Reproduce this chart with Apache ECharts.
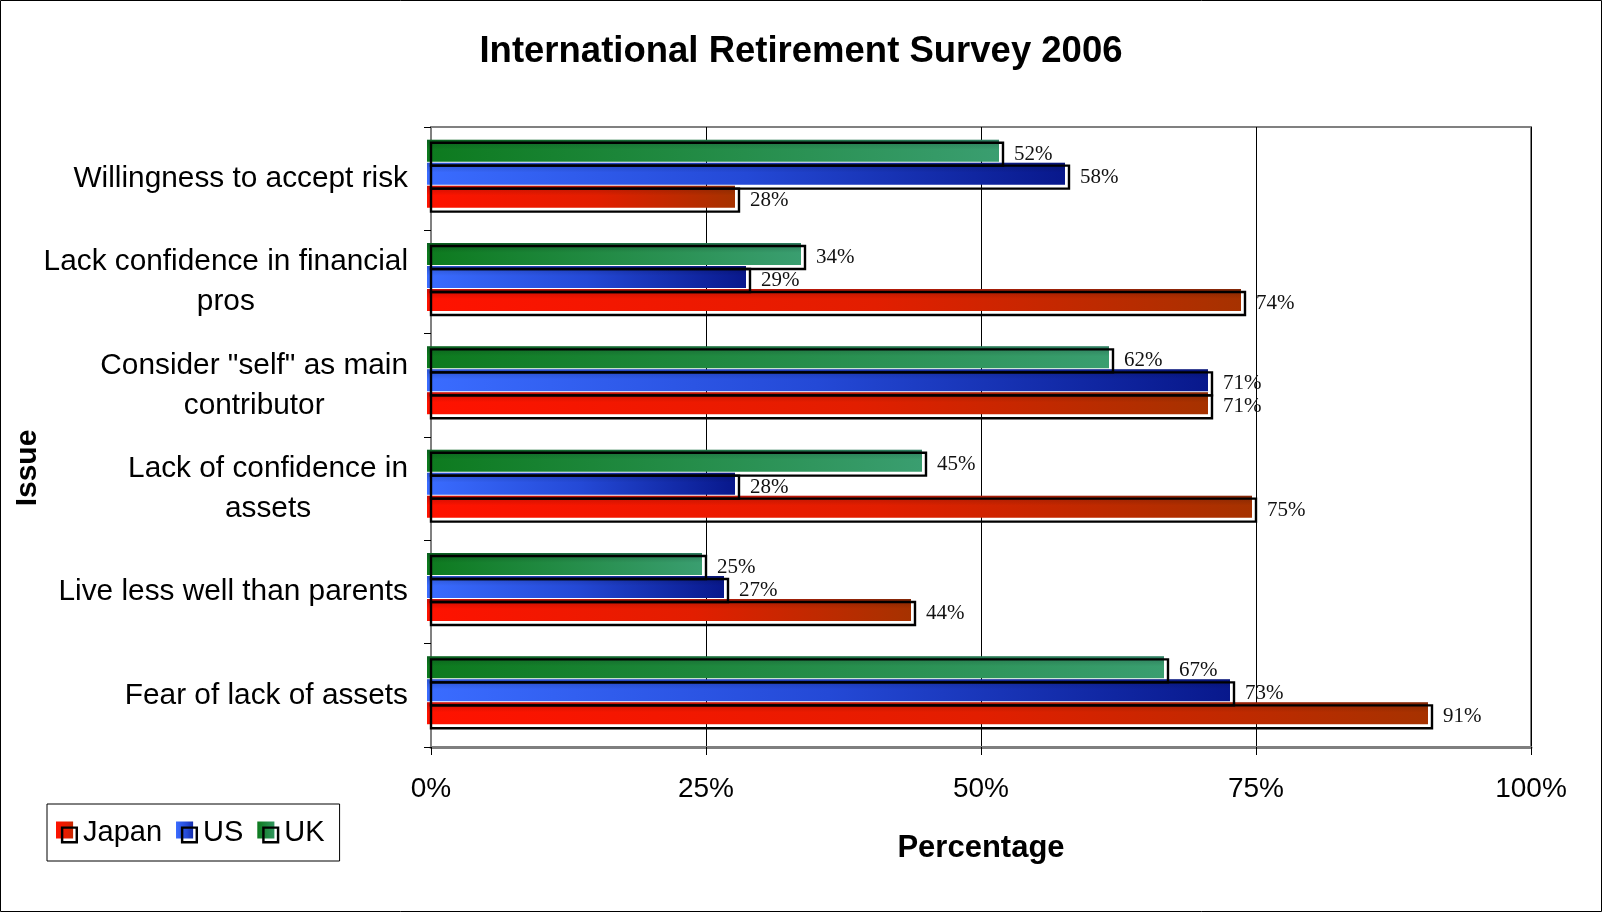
<!DOCTYPE html>
<html><head><meta charset="utf-8">
<script src="https://cdn.jsdelivr.net/npm/echarts@6/dist/echarts.min.js"></script>
<style>html,body{margin:0;padding:0;background:#fff}#c{width:1602px;height:912px}</style>
</head><body><div id="c"></div>
<script>
const categories = ['Willingness to accept risk', 'Lack confidence in financial\npros', 'Consider "self" as main\ncontributor', 'Lack of confidence in\nassets', 'Live less well than parents', 'Fear of lack of assets'];
const seriesNames = ['Japan', 'US', 'UK'];
const japan = [28, 74, 71, 75, 44, 91];
const us = [58, 29, 71, 28, 27, 73];
const uk = [52, 34, 62, 45, 25, 67];
const xTickValues = [0, 25, 50, 75, 100];

const LG = echarts.graphic.LinearGradient;
const fills = {
  Japan: () => new LG(0, 0, 1, 0, [{offset: 0, color: '#ff1200'}, {offset: 0.55, color: '#e21e00'}, {offset: 1, color: '#a63200'}]),
  US: () => new LG(0, 0, 1, 0, [{offset: 0, color: '#3a6cff'}, {offset: 0.5, color: '#2449d6'}, {offset: 1, color: '#08188c'}]),
  UK: () => new LG(0, 0, 1, 0, [{offset: 0, color: '#0d7a1e'}, {offset: 1, color: '#3a9e70'}])
};
const slotOf = {UK: 0, US: 1, Japan: 2};

function makeRender(name) {
  const slot = slotOf[name];
  return function (params, api) {
    const val = api.value(0);
    const cat = api.value(1);
    const end = api.coord([val, cat]);
    const base = api.coord([0, cat]);
    const band = api.size([0, 1])[1];
    const h = band * 0.2225;
    const top = end[1] - 1.5 * h - 1.5 + slot * h;
    const x0 = base[0], x1 = end[0];
    const w = x1 - x0;
    return {
      type: 'group',
      children: [
        {type: 'rect', shape: {x: x0 - 4, y: top - 3, width: w, height: h - 1}, style: {fill: fills[name]()}},
        {type: 'rect', shape: {x: x0 - 4, y: top - 3, width: w, height: h - 1},
          style: {fill: new LG(0, 0, 0, 1, [{offset: 0, color: 'rgba(0,0,40,0.22)'}, {offset: 0.45, color: 'rgba(0,0,0,0)'}, {offset: 1, color: 'rgba(0,0,0,0)'}])}},
        {type: 'rect', shape: {x: x0, y: top, width: w, height: h}, style: {fill: 'none', stroke: '#000', lineWidth: 2.4}},
        {type: 'text', style: {text: val + '%', x: x1 + 11, y: top + h / 2, align: 'left', verticalAlign: 'middle',
          fill: '#111', font: '21px "Liberation Serif", "Times New Roman", serif'}}
      ]
    };
  };
}

const dataFor = {Japan: japan, US: us, UK: uk};
const series = seriesNames.map(name => ({
  type: 'custom',
  name: name,
  renderItem: makeRender(name),
  itemStyle: {color: fills[name](), borderColor: '#000', borderWidth: 2},
  encode: {x: 0, y: 1},
  data: dataFor[name].map((v, i) => [v, i])
}));

const legendFont = {fontFamily: '"Liberation Sans", Arial, sans-serif', fontSize: 29, color: '#000'};
const legendBase = {
  left: 47, top: 804, orient: 'horizontal',
  padding: [14, 15, 14, 9], itemGap: 14, itemWidth: 22, itemHeight: 22
};
const fillIcon = 'path://M0,0H14V14H0Z M18,18h0.01v0.01h-0.01Z';
const ringIcon = 'path://M0,0h0.01v0.01h-0.01Z M4,4H18V18H4Z M6,6V16H16V6Z';

const chart = echarts.init(document.getElementById('c'), null, {renderer: 'canvas'});
chart.setOption({
  animation: false,
  backgroundColor: '#fff',
  title: {
    text: 'International Retirement Survey 2006',
    left: 'center', top: 28,
    textStyle: {fontFamily: '"Liberation Sans", Arial, sans-serif', fontWeight: 'bold', fontSize: 36.5, color: '#000'}
  },
  graphic: [{type: 'rect', shape: {x: 0.5, y: 0.5, width: 1601, height: 911}, style: {fill: 'none', stroke: '#000', lineWidth: 1}, silent: true}],
  legend: [
    Object.assign({}, legendBase, {
      borderColor: '#000', borderWidth: 1,
      textStyle: legendFont,
      data: seriesNames.map(n => ({name: n, icon: fillIcon, itemStyle: {color: fills[n](), borderWidth: 0}}))
    }),
    Object.assign({}, legendBase, {
      borderWidth: 0,
      textStyle: Object.assign({}, legendFont, {color: 'rgba(0,0,0,0)'}),
      data: seriesNames.map(n => ({name: n, icon: ringIcon, itemStyle: {color: '#000', borderWidth: 0}}))
    })
  ],
  grid: {left: 431, right: 71, top: 127, bottom: 165, containLabel: false, outerBoundsMode: 'none',
    show: true, borderColor: '#808080', borderWidth: 2, backgroundColor: 'transparent'},
  xAxis: {
    type: 'value', min: xTickValues[0], max: xTickValues[xTickValues.length - 1], interval: 25,
    name: 'Percentage', nameLocation: 'middle', nameGap: 86,
    nameTextStyle: {fontFamily: '"Liberation Sans", Arial, sans-serif', fontWeight: 'bold', fontSize: 31, color: '#000'},
    axisLine: {show: true, lineStyle: {color: '#7f7f7f', width: 3}},
    axisTick: {show: true, length: 8, lineStyle: {color: '#000', width: 1}},
    axisLabel: {formatter: '{value}%', margin: 28, fontFamily: '"Liberation Sans", Arial, sans-serif', fontSize: 28, color: '#000'},
    splitLine: {show: true, lineStyle: {color: '#000', width: 1}}
  },
  yAxis: {
    type: 'category', inverse: true, data: categories,
    name: 'Issue', nameLocation: 'middle', nameGap: 388, nameMoveOverlap: false,
    nameTextStyle: {fontFamily: '"Liberation Sans", Arial, sans-serif', fontWeight: 'bold', fontSize: 30, color: '#000', padding: [0, 62, 0, 0]},
    axisLine: {show: true, lineStyle: {color: '#808080', width: 2}},
    axisTick: {show: true, length: 7, lineStyle: {color: '#000', width: 1}},
    axisLabel: {
      margin: 23,
      formatter: v => v.split('\n').map(s => '{c|' + s + '}').join('\n'),
      rich: {c: {align: 'center', fontFamily: '"Liberation Sans", Arial, sans-serif', fontSize: 29.8, color: '#000', lineHeight: 40}}
    },
    splitLine: {show: false}
  },
  series: series
});
</script></body></html>
